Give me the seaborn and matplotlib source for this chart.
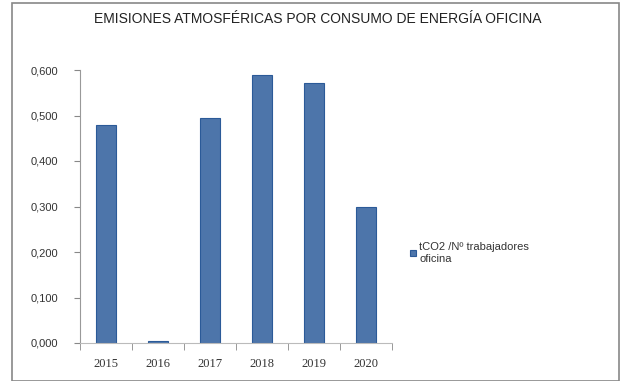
import matplotlib
matplotlib.use("Agg")
import matplotlib.pyplot as plt
import seaborn as sns
import pandas as pd
import numpy as np
from matplotlib.patches import Rectangle

years = ["2015", "2016", "2017", "2018", "2019", "2020"]
values = [0.479, 0.004, 0.495, 0.590, 0.571, 0.299]
series_name = "tCO2 /Nº trabajadores\noficina"
title = "EMISIONES ATMOSFÉRICAS POR CONSUMO DE ENERGÍA OFICINA"
yticks = [0.0, 0.1, 0.2, 0.3, 0.4, 0.5, 0.6]

sns.set_style("white")
plt.rcParams['font.family'] = ['Liberation Sans', 'DejaVu Sans']

df = pd.DataFrame({"year": years, "value": values, "serie": series_name})

fig = plt.figure(figsize=(6.24, 3.81), dpi=100)
ax = fig.add_axes([80/624, 1-343/381, 312/624, 273/381])

sns.barplot(data=df, x="year", y="value", hue="serie", ax=ax,
            palette=["#3E73B9"], width=0.4, edgecolor="#2B5A98", linewidth=0.8)

ax.set_ylim(0, 0.6)
ax.set_yticks(yticks)
ax.set_yticklabels([f"{v:.3f}".replace(".", ",") for v in yticks],
                   fontsize=8, color="#333333")
ax.set_xlabel("")
ax.set_ylabel("")
ax.tick_params(axis="x", length=0, labelsize=9, colors="#333333", pad=11)
for lbl in ax.get_xticklabels():
    lbl.set_fontfamily(['Liberation Serif', 'DejaVu Serif'])
ax.tick_params(axis="y", length=4, direction="out", color="#888888", left=True, pad=12)
ax.set_xticks(np.arange(len(years) + 1) - 0.5, minor=True)
ax.tick_params(axis="x", which="minor", length=5, color="#888888", bottom=True)
ax.set_xlim(-0.5, len(years) - 0.5)

for s in ["top", "right"]:
    ax.spines[s].set_visible(False)
ax.spines["left"].set_color("#999999")
ax.spines["bottom"].set_color("#bbbbbb")
ax.spines["left"].set_linewidth(0.8)
ax.spines["bottom"].set_linewidth(0.8)

leg = ax.legend(loc="upper left", bbox_to_anchor=(406/624, 1-238/381),
                bbox_transform=fig.transFigure, frameon=False, fontsize=8,
                handlelength=0.5, handleheight=0.5, handletextpad=0.3,
                borderaxespad=0)
for t in leg.get_texts():
    t.set_color("#333333")

fig.text(318/624, 1-19/381, title, ha="center", va="center", fontsize=10,
         color="#222222")

fig.patches.append(Rectangle((12/624, 0), 607/624, 1-3/381, transform=fig.transFigure,
                             fill=False, edgecolor="#888888", linewidth=1.2))

fig.savefig("out.png", dpi=100)
